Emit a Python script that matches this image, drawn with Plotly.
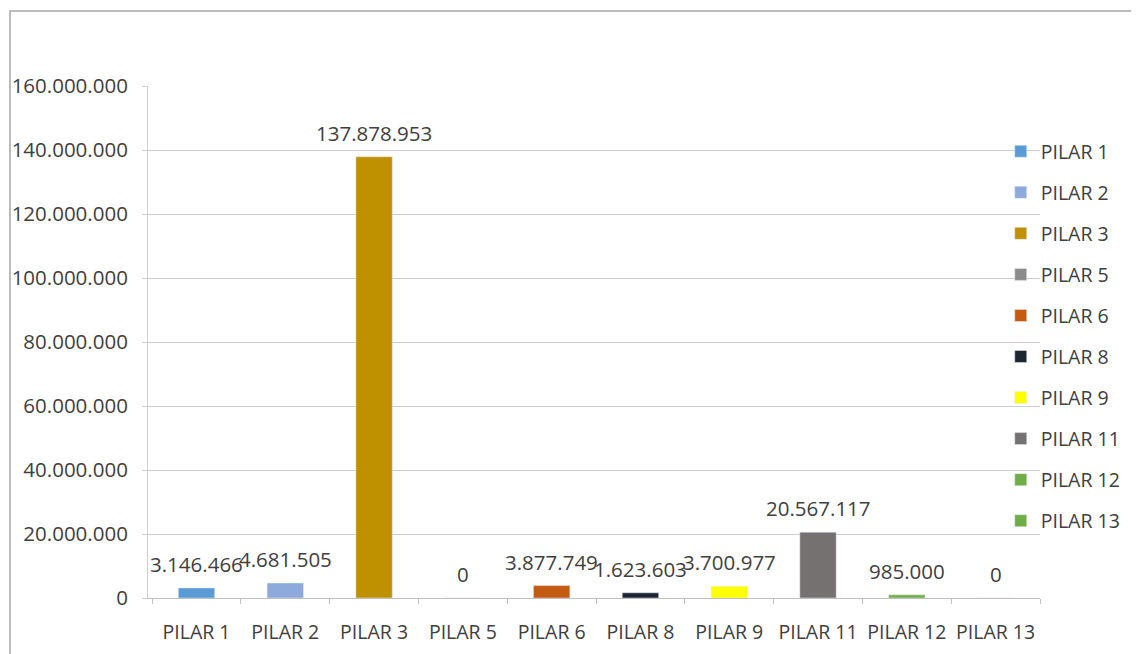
import plotly.graph_objects as go

categories = ["PILAR 1", "PILAR 2", "PILAR 3", "PILAR 5", "PILAR 6",
              "PILAR 8", "PILAR 9", "PILAR 11", "PILAR 12", "PILAR 13"]
values = [3146466, 4681505, 137878953, 0, 3877749,
          1623603, 3700977, 20567117, 985000, 0]
colors = ["#5B9BD5", "#8EA9DB", "#BF9000", "#8C8C8C", "#C55A11",
          "#1F2633", "#FFFF00", "#767171", "#70AD47", "#70AD47"]
y_ticks = [0, 20000000, 40000000, 60000000, 80000000,
           100000000, 120000000, 140000000, 160000000]

FONT = "Open Sans"
TXT = "#404040"
FS = 19.5
FN = 20.5


def fmt(v):
    return f"{v:,}".replace(",", ".")


fig = go.Figure()
for cat, val, col in zip(categories, values, colors):
    fig.add_trace(go.Bar(
        x=[cat], y=[val], name=cat, marker_color=col,
        width=0.41, legendgroup=cat,
    ))

annotations = [
    dict(x=cat, y=val, xref="x", yref="y", text=fmt(val), showarrow=False,
         yshift=24, yanchor="middle",
         font=dict(family=FONT, size=FN, color=TXT))
    for cat, val in zip(categories, values)
]

fig.update_layout(
    width=1139, height=654,
    margin=dict(l=140, r=107, t=78, b=64, autoexpand=False),
    paper_bgcolor="white", plot_bgcolor="white",
    separators=",.",
    barmode="overlay",
    font=dict(family=FONT, size=FS, color=TXT),
    legend=dict(x=0.956, y=0.91, xanchor="left", yanchor="top",
                bgcolor="rgba(0,0,0,0)", tracegroupgap=12.7,
                font=dict(family=FONT, size=FS, color=TXT),
                itemwidth=30),
    xaxis=dict(categoryorder="array", categoryarray=categories,
               showline=True, linecolor="#BFBFBF", linewidth=1,
               ticks="outside", tickson="boundaries", ticklen=5,
               tickcolor="#BFBFBF", showgrid=False, tickangle=0,
               automargin=False, ticklabelstandoff=17,
               tickfont=dict(family=FONT, size=FS, color=TXT)),
    yaxis=dict(range=[0, 160000000], tickvals=y_ticks, tickformat=",.0f",
               showgrid=True, gridcolor="#CCCCCC", gridwidth=1,
               showline=True, linecolor="#D0D0D0",
               ticks="outside", ticklen=5, tickcolor="#D0D0D0",
               zeroline=False, ticklabelstandoff=10, automargin=False,
               tickfont=dict(family=FONT, size=FN, color=TXT)),
    annotations=annotations,
    shapes=[dict(type="rect", xref="paper", yref="paper",
                 x0=-0.1547, x1=2.0, y0=-1.0, y1=1.1465,
                 line=dict(color="#A6A6A6", width=1.5))],
)

fig.write_html("out.html")
